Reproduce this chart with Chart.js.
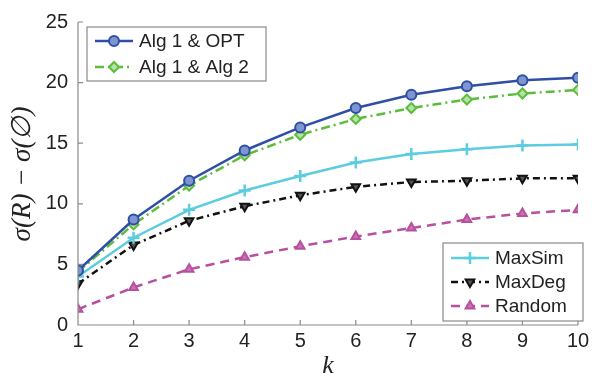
<!DOCTYPE html>
<html>
<head>
<meta charset="utf-8">
<script src="https://cdn.jsdelivr.net/npm/chart.js@4/dist/chart.umd.min.js"></script>
<style>
  html, body { margin: 0; padding: 0; background: #fff; }
  #wrap { width: 597px; height: 380px; position: relative; }
</style>
</head>
<body>
<div id="wrap"><canvas id="c" width="597" height="380"></canvas></div>
<script>
// values
const kValues   = [1, 2, 3, 4, 5, 6, 7, 8, 9, 10];
const alg1Opt   = [4.5, 8.7, 11.9, 14.4, 16.3, 17.9, 19.0, 19.7, 20.2, 20.4];
const alg1Alg2  = [4.4, 8.3, 11.5, 14.0, 15.7, 17.0, 17.9, 18.6, 19.1, 19.4];
const maxSim    = [4.0, 7.2, 9.5, 11.1, 12.3, 13.4, 14.1, 14.5, 14.8, 14.9];
const maxDeg    = [3.4, 6.6, 8.6, 9.8, 10.7, 11.4, 11.8, 11.9, 12.1, 12.1];
const randomSel = [1.3, 3.1, 4.6, 5.6, 6.5, 7.3, 8.0, 8.7, 9.2, 9.5];
const yTicks    = [0, 5, 10, 15, 20, 25];

const FONT = '"Liberation Sans", Arial, sans-serif';

function series(label, data, color, style, dash, fill, rot) {
  return {
    label, data: data.map((v, i) => ({ x: kValues[i], y: v })),
    borderColor: color, backgroundColor: fill, borderWidth: 2.5,
    borderDash: dash, pointStyle: style, pointRadius: 5, pointRotation: rot || 0,
    pointBorderColor: color, pointBackgroundColor: fill, pointBorderWidth: 2,
    tension: 0
  };
}

const datasets = [
  series('Alg 1 & OPT', alg1Opt, '#2f4fa6', 'circle', [], '#7f95cf'),
  series('Alg 1 & Alg 2', alg1Alg2, '#5cbd3c', 'rectRot', [9, 4, 2, 4], '#b5e2a6'),
  series('MaxSim', maxSim, '#5ccde0', 'cross', [], '#5ccde0'),
  series('MaxDeg', maxDeg, '#111111', 'triangle', [7, 4, 2, 4], '#555555', 180),
  series('Random', randomSel, '#b6509f', 'triangle', [9, 6], '#c873b6')
];
datasets[2].pointBorderWidth = 2.5;
datasets[2].pointRadius = 6;

// MATLAB-style inward ticks, axis lines, and two legend boxes
const decorPlugin = {
  id: 'decor',
  afterDraw(chart) {
    const ctx = chart.ctx;
    const a = chart.chartArea;
    const xs = chart.scales.x, ys = chart.scales.y;
    ctx.save();
    ctx.strokeStyle = '#8a8a8a';
    ctx.lineWidth = 1.2;
    ctx.beginPath();
    ctx.moveTo(a.left, a.top); ctx.lineTo(a.left, a.bottom); ctx.lineTo(a.right, a.bottom);
    kValues.forEach(k => { const x = xs.getPixelForValue(k); ctx.moveTo(x, a.bottom); ctx.lineTo(x, a.bottom - 5); });
    yTicks.forEach(v => { const y = ys.getPixelForValue(v); ctx.moveTo(a.left, y); ctx.lineTo(a.left + 5, y); });
    ctx.stroke();

    const drawLegend = (box, items) => {
      ctx.fillStyle = '#fff';
      ctx.fillRect(box.x, box.y, box.w, box.h);
      ctx.strokeStyle = '#8a8a8a';
      ctx.lineWidth = 1.2;
      ctx.strokeRect(box.x, box.y, box.w, box.h);
      items.forEach((idx, i) => {
        const ds = chart.data.datasets[idx];
        const yy = box.y + box.first + i * box.step;
        ctx.strokeStyle = ds.borderColor;
        ctx.lineWidth = ds.borderWidth;
        ctx.setLineDash(ds.borderDash);
        ctx.beginPath();
        ctx.moveTo(box.x + 8, yy); ctx.lineTo(box.x + 46, yy);
        ctx.stroke();
        ctx.setLineDash([]);
        ctx.fillStyle = ds.pointBackgroundColor;
        ctx.strokeStyle = ds.pointBorderColor;
        ctx.lineWidth = ds.pointBorderWidth;
        Chart.helpers.drawPoint(ctx, {
          pointStyle: ds.pointStyle, rotation: ds.pointRotation, radius: ds.pointRadius,
          borderWidth: ds.pointBorderWidth
        }, box.x + 27, yy);
        ctx.fillStyle = '#222';
        ctx.font = '19px ' + FONT;
        ctx.textBaseline = 'middle';
        ctx.textAlign = 'left';
        ctx.fillText(ds.label, box.x + 52, yy + 1);
      });
    };
    drawLegend({ x: 87, y: 27, w: 179, h: 54, first: 14, step: 26 }, [0, 1]);
    drawLegend({ x: 443, y: 243, w: 140, h: 78, first: 15, step: 24 }, [2, 3, 4]);

    // axis titles
    ctx.fillStyle = '#222';
    ctx.font = 'italic 26px "Liberation Serif", "DejaVu Serif", serif';
    ctx.textAlign = 'center';
    ctx.textBaseline = 'middle';
    ctx.fillText('k', (a.left + a.right) / 2, 366);
    ctx.translate(23, 174);
    ctx.rotate(-Math.PI / 2);
    ctx.font = 'italic 27px "Liberation Serif", "DejaVu Serif", serif';
    ctx.fillText('σ(R) − σ(∅)', 0, 0);
    ctx.restore();
  }
};

new Chart(document.getElementById('c'), {
  type: 'line',
  data: { datasets },
  options: {
    responsive: false,
    animation: false,
    layout: { padding: { left: 0, right: 19, top: 20, bottom: 0 } },
    plugins: { legend: { display: false }, tooltip: { enabled: false } },
    scales: {
      x: {
        type: 'linear', min: 1, max: 10,
        border: { display: false },
        grid: { display: false, drawTicks: false },
        afterFit: s => { s.height = 55; },
        afterBuildTicks: s => { s.ticks = kValues.map(v => ({ value: v })); },
        ticks: { color: '#222', font: { family: FONT, size: 20 }, padding: 4, maxRotation: 0 }
      },
      y: {
        min: 0, max: 25,
        border: { display: false },
        grid: { display: false, drawTicks: false },
        afterFit: s => { s.width = 78; },
        afterBuildTicks: s => { s.ticks = yTicks.map(v => ({ value: v })); },
        ticks: { color: '#222', font: { family: FONT, size: 20 }, padding: 10 }
      }
    }
  },
  plugins: [decorPlugin]
});
</script>
</body>
</html>
